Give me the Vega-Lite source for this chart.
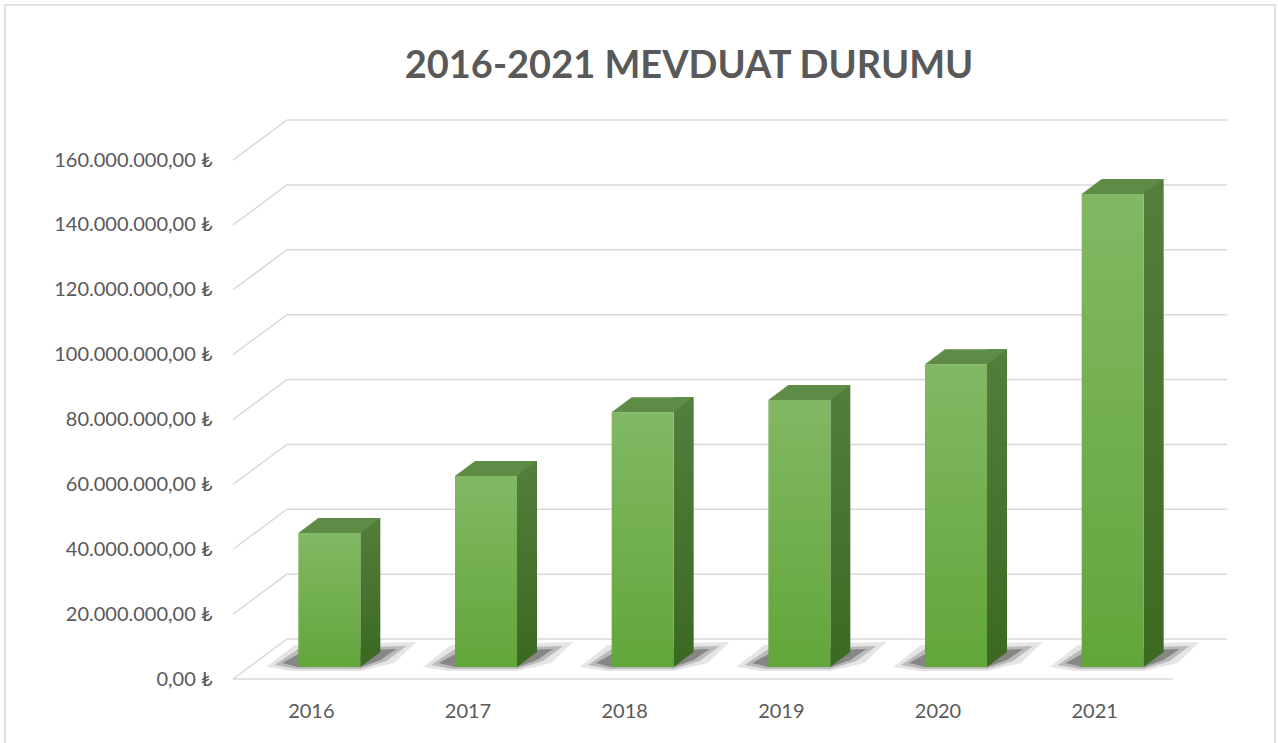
{
  "$schema": "https://vega.github.io/schema/vega-lite/v6.json",
  "autosize": "none",
  "width": 1270,
  "height": 745,
  "padding": {"left": 5, "top": 5, "right": 3, "bottom": 0},
  "background": "#ffffff",
  "title": {
    "text": "2016-2021 MEVDUAT DURUMU",
    "font": "Lato",
    "fontSize": 38,
    "fontWeight": "bold",
    "color": "#595959",
    "anchor": "middle",
    "frame": "group",
    "baseline": "alphabetic",
    "offset": 0,
    "dx": 49,
    "dy": 111
  },
  "config": {
    "view": {"stroke": "#d9d9d9", "strokeWidth": 1.5},
    "locale": {"number": {"decimal": ",", "thousands": ".", "grouping": [3], "currency": ["", " ₺"]}},
    "axis": {"labelFont": "Lato", "labelColor": "#595959", "domain": false, "ticks": false, "tickSize": 0, "grid": false, "title": null}
  },
  "datasets": {
    "deposits": [
      {"year": "2016", "amount": 41300000},
      {"year": "2017", "amount": 58900000},
      {"year": "2018", "amount": 78500000},
      {"year": "2019", "amount": 82300000},
      {"year": "2020", "amount": 93300000},
      {"year": "2021", "amount": 145800000}
    ],
    "grid": [
      {"v": 0}, {"v": 20000000}, {"v": 40000000}, {"v": 60000000}, {"v": 80000000},
      {"v": 100000000}, {"v": 120000000}, {"v": 140000000}, {"v": 160000000}
    ]
  },
  "resolve": {"scale": {"x": "shared", "y": "shared"}},
  "layer": [
    {
      "data": {"name": "grid"},
      "mark": {"type": "rule", "color": "#d9d9d9", "strokeWidth": 1.5, "xOffset": 54, "x2Offset": 54, "yOffset": -40},
      "encoding": {
        "x": {"datum": "2016", "bandPosition": 0, "type": "nominal",
              "scale": {"domain": ["2016", "2017", "2018", "2019", "2020", "2021"], "range": [228, 1168], "paddingInner": 0, "paddingOuter": 0},
              "axis": {"labelFontSize": 20, "labelPadding": 22, "offset": -71, "orient": "bottom", "labelAngle": 0}},
        "x2": {"datum": "2021", "bandPosition": 1},
        "y": {"field": "v", "type": "quantitative",
              "scale": {"domain": [0, 160000000], "range": [674, 155], "nice": false, "zero": true},
              "axis": {"values": [0, 20000000, 40000000, 60000000, 80000000, 100000000, 120000000, 140000000, 160000000],
                       "format": "$,.2f", "labelFontSize": 20, "labelPadding": 21, "offset": -228, "orient": "left"}}
      }
    },
    {
      "data": {"name": "grid"},
      "mark": {"type": "rule", "color": "#d9d9d9", "strokeWidth": 1.5, "x2Offset": 54, "y2Offset": -40},
      "encoding": {
        "x": {"datum": "2016", "bandPosition": 0, "type": "nominal"},
        "x2": {"datum": "2016", "bandPosition": 0},
        "y": {"field": "v", "type": "quantitative"},
        "y2": {"field": "v"}
      }
    },
    {
      "data": {"values": [{"v": 0}]},
      "mark": {"type": "rule", "color": "#d9d9d9", "strokeWidth": 1.5},
      "encoding": {
        "x": {"datum": "2016", "bandPosition": 0, "type": "nominal"},
        "x2": {"datum": "2021", "bandPosition": 1},
        "y": {"field": "v", "type": "quantitative"}
      }
    },
    {
      "data": {"name": "deposits"},
      "mark": {"type": "point", "filled": true, "size": 4, "strokeWidth": 0, "color": "#262626", "opacity": 0.12,
               "shape": "M-32,0 L-4,-22 L118,-25 L96,-4 L62,4 L-6,4 Z", "xOffset": -13, "yOffset": -12},
      "encoding": {
        "x": {"field": "year", "type": "nominal"},
        "y": {"datum": 0, "type": "quantitative"}
      }
    },
    {
      "data": {"name": "deposits"},
      "mark": {"type": "point", "filled": true, "size": 4, "strokeWidth": 0, "color": "#262626", "opacity": 0.22,
               "shape": "M-24,-2 L0,-18 L108,-21 L88,-6 L62,2 L-2,2 Z", "xOffset": -13, "yOffset": -12},
      "encoding": {
        "x": {"field": "year", "type": "nominal"},
        "y": {"datum": 0, "type": "quantitative"}
      }
    },
    {
      "data": {"name": "deposits"},
      "mark": {"type": "point", "filled": true, "size": 4, "strokeWidth": 0, "color": "#262626", "opacity": 0.35,
               "shape": "M-16,-4 L4,-15 L98,-18 L82,-7 L62,0 L0,0 Z", "xOffset": -13, "yOffset": -12},
      "encoding": {
        "x": {"field": "year", "type": "nominal"},
        "y": {"datum": 0, "type": "quantitative"}
      }
    },
    {
      "data": {"name": "deposits"},
      "mark": {"type": "rect", "xOffset": 49, "x2Offset": 69, "yOffset": -27, "y2Offset": -27,
               "color": {"gradient": "linear", "x1": 0, "y1": 0, "x2": 0, "y2": 1,
                         "stops": [{"offset": 0, "color": "#537e3c"}, {"offset": 1, "color": "#3d6a23"}]}},
      "encoding": {
        "x": {"field": "year", "type": "nominal", "bandPosition": 0.5},
        "x2": {"field": "year", "bandPosition": 0.5},
        "y": {"field": "amount", "type": "quantitative"},
        "y2": {"datum": 0}
      }
    },
    {
      "data": {"name": "deposits"},
      "mark": {"type": "point", "filled": true, "size": 4, "strokeWidth": 0, "color": "#3d6a23", "opacity": 1,
               "shape": "M0,0 L20,0 L0,15 Z", "xOffset": 49, "yOffset": -27},
      "encoding": {
        "x": {"field": "year", "type": "nominal"},
        "y": {"datum": 0, "type": "quantitative"}
      }
    },
    {
      "data": {"name": "deposits"},
      "mark": {"type": "rect", "xOffset": -13, "x2Offset": 49, "yOffset": -12, "y2Offset": -12,
               "color": {"gradient": "linear", "x1": 0, "y1": 0, "x2": 0, "y2": 1,
                         "stops": [{"offset": 0, "color": "#82b864"}, {"offset": 1, "color": "#62a63a"}]}},
      "encoding": {
        "x": {"field": "year", "type": "nominal", "bandPosition": 0.5},
        "x2": {"field": "year", "bandPosition": 0.5},
        "y": {"field": "amount", "type": "quantitative"},
        "y2": {"datum": 0}
      }
    },
    {
      "data": {"name": "deposits"},
      "mark": {"type": "point", "filled": true, "size": 4, "strokeWidth": 0, "color": "#5e8c46", "opacity": 1,
               "shape": "M0,0 L62,0 L82,-15 L20,-15 Z", "xOffset": -13, "yOffset": -12},
      "encoding": {
        "x": {"field": "year", "type": "nominal"},
        "y": {"field": "amount", "type": "quantitative"}
      }
    }
  ]
}
